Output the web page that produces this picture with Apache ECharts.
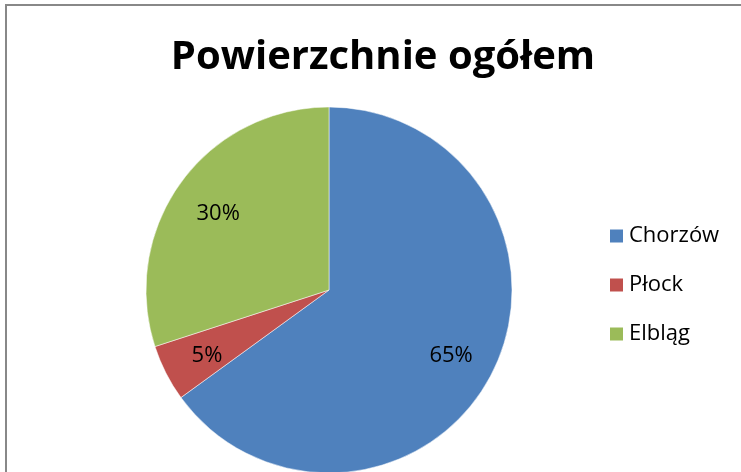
<!DOCTYPE html>
<html>
<head>
<meta charset="utf-8">
<script src="https://cdn.jsdelivr.net/npm/echarts@6/dist/echarts.min.js"></script>
<style>
  html, body { margin: 0; padding: 0; background: #fff; }
  #chart { width: 741px; height: 472px; }
</style>
</head>
<body>
<div id="chart"></div>
<script>
// dane wykresu
const cities = ["Chorzów", "Płock", "Elbląg"];
const shares = [65, 5, 30];
const colors = ["#4F81BD", "#C0504D", "#9BBB59"];

const chart = echarts.init(document.getElementById("chart"));
const font = "Open Sans, Liberation Sans, sans-serif";

const pieData = cities.map((name, i) => ({
  name: name,
  value: shares[i],
  itemStyle: { color: colors[i] },
}));

const option = {
  animation: false,
  title: {
    text: "Powierzchnie ogółem",
    left: 378,
    top: 33,
    textAlign: "center",
    textStyle: {
      fontFamily: font,
      fontWeight: "bold",
      fontSize: 40,
      color: "#000",
    },
  },
  legend: {
    orient: "vertical",
    left: 603,
    top: 220,
    itemWidth: 15,
    itemHeight: 15,
    itemGap: 27,
    icon: "rect",
    textStyle: { fontFamily: font, fontSize: 22, color: "#000" },
    data: cities,
  },
  graphic: [
    {
      type: "rect",
      shape: { x: 6, y: 5, width: 760, height: 500 },
      style: { fill: "none", stroke: "#888", lineWidth: 2 },
      silent: true,
    },
  ],
  series: [
    {
      type: "pie",
      center: [329, 290],
      radius: [0, 183],
      startAngle: 90,
      clockwise: true,
      label: { show: false },
      labelLine: { show: false },
      itemStyle: { borderColor: "#fff", borderWidth: 0.5 },
      data: pieData,
    },
    {
      // etykiety procentowe
      type: "pie",
      center: [329, 294],
      radius: [0, 268],
      startAngle: 90,
      clockwise: true,
      silent: true,
      legendHoverLink: false,
      label: {
        show: true,
        position: "inside",
        formatter: "{c}%",
        fontFamily: font,
        fontSize: 22,
        color: "#000",
      },
      labelLine: { show: false },
      itemStyle: { color: "rgba(0,0,0,0)" },
      data: cities.map((name, i) => ({ name: name + " ", value: shares[i] })),
    },
  ],
};

chart.setOption(option);
</script>
</body>
</html>
